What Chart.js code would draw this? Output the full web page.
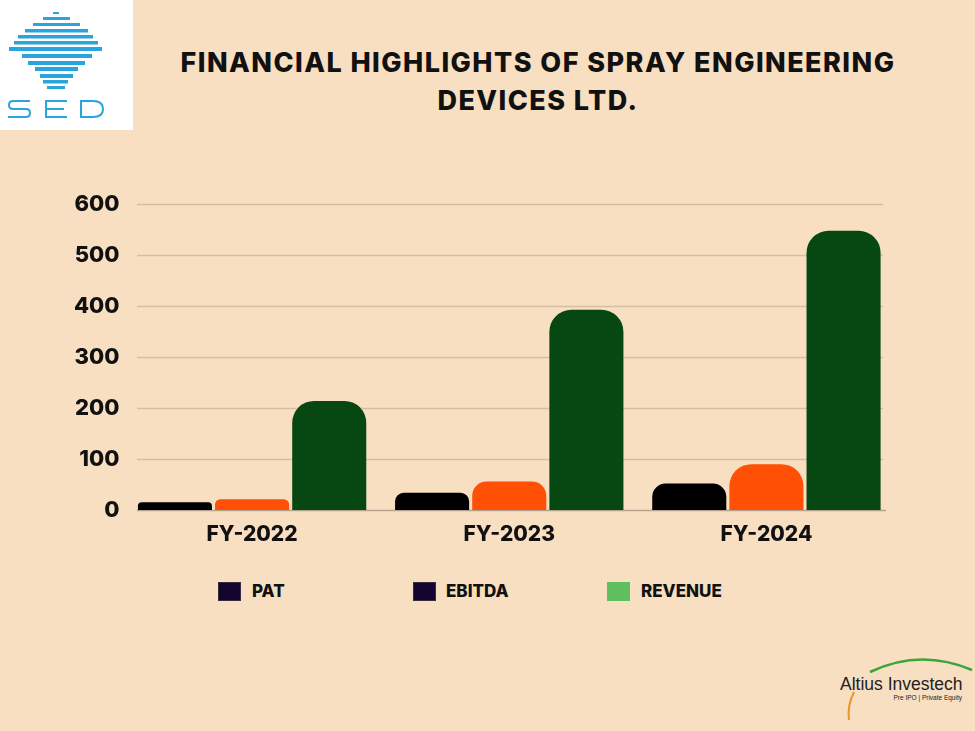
<!DOCTYPE html>
<html>
<head>
<meta charset="utf-8">
<script src="https://cdn.jsdelivr.net/npm/chart.js@4"></script>
<style>
  html, body { margin: 0; padding: 0; }
  body { width: 975px; height: 731px; background: #f8dfc2; position: relative; overflow: hidden; font-family: Inter, "DejaVu Sans", sans-serif; }
  #logo { position: absolute; left: 0; top: 0; width: 133px; height: 130px; background: #fff; }
  #title { position: absolute; left: 140px; width: 796px; top: 44px; text-align: center; font-weight: 800; font-size: 27px; line-height: 38px; letter-spacing: 1.45px; color: #111; }
  #wrap { position: absolute; left: 0; top: 187px; width: 975px; height: 373px; }
  .leg { position: absolute; top: 581px; font-weight: 800; font-size: 17px; color: #111; line-height: 20px; }
  .leg i { position: absolute; top: 1px; width: 23px; height: 19px; box-sizing: border-box; border: 1px solid #3a2a40; }
  .leg span { position: absolute; top: 0; white-space: nowrap; }
  #brand { position: absolute; left: 820px; top: 650px; width: 155px; height: 81px; }
</style>
</head>
<body>
<div id="logo">
  <svg width="133" height="130" viewBox="0 0 133 130">
    <g fill="#2aa4dc">
      <rect x="53" y="12" width="6" height="2"/>
      <rect x="43" y="17" width="27" height="3"/>
      <rect x="33" y="23" width="47" height="3"/>
      <rect x="25" y="29" width="63" height="3.5"/>
      <rect x="18" y="35" width="75" height="3.5"/>
      <rect x="14" y="41" width="84" height="3.5"/>
      <rect x="9" y="47" width="93" height="4"/>
      <rect x="22" y="54" width="70" height="4"/>
      <rect x="28" y="61" width="57" height="4"/>
      <rect x="35" y="67" width="43" height="4"/>
      <rect x="40" y="74" width="33" height="4"/>
      <rect x="43" y="80" width="25" height="3.5"/>
      <rect x="47" y="86" width="18" height="3"/>
    </g>
    <g fill="none" stroke="#2aa4dc" stroke-width="2">
      <path d="M30 101 H13 Q9 101 9 105 Q9 109 13 109 H26 Q30 109 30 113 Q30 117 26 117 H8"/>
      <path d="M67 101 H46 V117 H67 M46 109 H64"/>
      <path d="M81 101 H93 Q103 101 103 109 Q103 117 93 117 H81 Z"/>
    </g>
  </svg>
</div>
<div id="title">FINANCIAL HIGHLIGHTS OF SPRAY ENGINEERING<br>DEVICES LTD.</div>
<div id="wrap"><canvas id="c"></canvas></div>
<div class="leg" style="left:218px"><i style="background:#130530"></i><span style="left:34px">PAT</span></div>
<div class="leg" style="left:413px"><i style="background:#130530"></i><span style="left:33px">EBITDA</span></div>
<div class="leg" style="left:607px"><i style="background:#5fbf5f;border-color:#5fbf5f"></i><span style="left:34px">REVENUE</span></div>
<div id="brand">
  <svg width="155" height="81" viewBox="0 0 155 81">
    <path d="M50 22 Q100 -2 152 20" fill="none" stroke="#3aa63a" stroke-width="2.5"/>
    <path d="M34 42 Q27 56 29 70" fill="none" stroke="#f0922a" stroke-width="2"/>
    <text x="20" y="40" font-family="'Liberation Sans', Arial, sans-serif" font-size="17.5" fill="#222">Altius Investech</text>
    <text x="142" y="50" text-anchor="end" font-family="'Liberation Sans', Arial, sans-serif" font-size="6.5" fill="#222">Pre IPO | Private Equity</text>
  </svg>
</div>
<script>
const years = ['FY-2022', 'FY-2023', 'FY-2024'];
const pat = [15, 34, 52];
const ebitda = [21, 56, 90];
const revenue = [214, 393, 548];
const yTicks = [0, 100, 200, 300, 400, 500, 600];

// horizontal grid lines drawn only between x=137 and x=883 like the original
const gridPlugin = {
  id: 'grid',
  beforeDatasetsDraw(chart) {
    const ctx = chart.ctx;
    const y = chart.scales.y;
    ctx.save();
    yTicks.forEach(v => {
      const py = Math.round(y.getPixelForValue(v)) + 0.5;
      ctx.strokeStyle = v === 0 ? '#b5a390' : '#d6bea3';
      ctx.lineWidth = 1.5;
      ctx.beginPath();
      ctx.moveTo(137, py);
      ctx.lineTo(v === 0 ? 886 : 883, py);
      ctx.stroke();
    });
    ctx.restore();
  }
};

const tickFont = { family: 'Inter, "DejaVu Sans", sans-serif', weight: '800', size: 22 };

new Chart(document.getElementById('c'), {
  type: 'bar',
  data: {
    labels: years,
    datasets: [
      { label: 'PAT', data: pat, backgroundColor: '#000000' },
      { label: 'EBITDA', data: ebitda, backgroundColor: '#ff5006' },
      { label: 'REVENUE', data: revenue, backgroundColor: '#074711' }
    ]
  },
  options: {
    responsive: true,
    maintainAspectRatio: false,
    animation: false,
    layout: { padding: { top: 11, right: 80, left: 0, bottom: 0 } },
    datasets: {
      bar: {
        categoryPercentage: 0.9,
        barPercentage: 0.96,
        borderRadius: 22,
        borderSkipped: 'start'
      }
    },
    plugins: {
      legend: { display: false },
      tooltip: { enabled: false }
    },
    scales: {
      x: {
        grid: { display: false, drawTicks: false },
        border: { display: false },
        ticks: { color: '#111', font: { ...tickFont, size: 21 }, padding: 12 },
        afterFit(s) { s.height = 50; }
      },
      y: {
        min: 0,
        max: 600,
        grid: { display: false, drawTicks: false },
        border: { display: false },
        ticks: { stepSize: 100, color: '#111', font: tickFont, padding: 4 },
        afterFit(s) { s.width = 123.5; }
      }
    }
  },
  plugins: [gridPlugin]
});
</script>
</body>
</html>
